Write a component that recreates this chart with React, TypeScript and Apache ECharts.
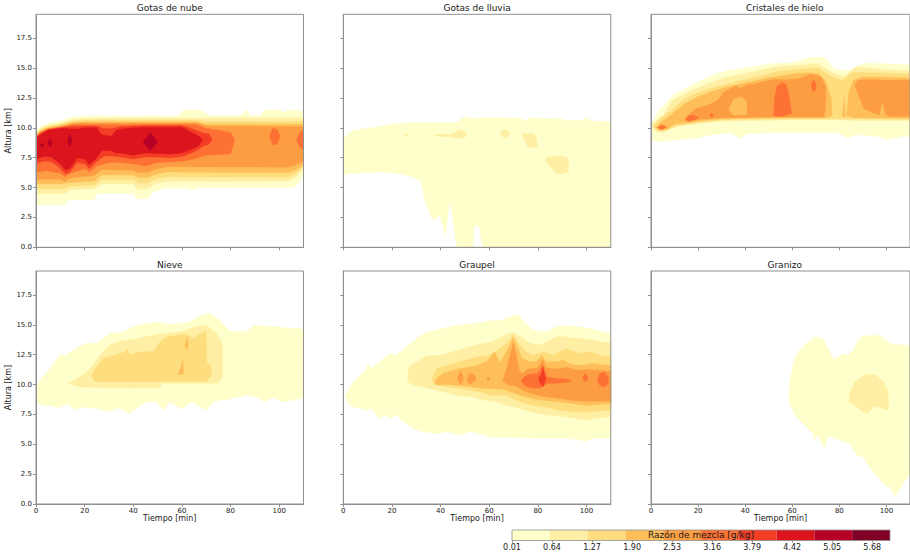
import React, { useEffect, useRef } from "react";
import * as echarts from "echarts";

type Pt = [number, number];
interface Region {
  level: number;
  top: Pt[];
  bottom: Pt[];
}

// Filled contour colours (YlOrRd), one per mixing-ratio interval
const COLORS = [
  "#ffffcc", "#ffefa5", "#fedd7f", "#febf5a", "#fd9d43",
  "#fd7134", "#f43d25", "#db141e", "#b60026", "#800026",
];
const CONTOUR_LEVELS = [0.01, 0.605, 1.2, 1.795, 2.39, 2.985, 3.58, 4.175, 4.77, 5.365, 5.96];
const COLORBAR_TICKS = [0.01, 0.64, 1.27, 1.9, 2.53, 3.16, 3.79, 4.42, 5.05, 5.68];
const TIME_TICKS = [0, 20, 40, 60, 80, 100];
const HEIGHT_TICKS = [0, 2.5, 5, 7.5, 10, 12.5, 15, 17.5];
const TIME_MAX = 110;
const HEIGHT_MAX = 19.5;

// Each region: outline of a filled contour, upper edge and lower edge as [time min, height km]
const NUBE: Region[] = [
  { level: 0,
    top: [[0,9.75],[2,10.1],[5,10.4],[10,10.6],[15,10.9],[20,11.0],[58,11.0],[61,11.5],[68,11.5],[71,11.0],[84,11.0],[86.5,11.5],[88.5,11.0],[92,11.0],[94,11.5],[100,11.5],[102,11.3],[104,11.5],[110,11.4]],
    bottom: [[0,3.55],[12,3.55],[13,3.95],[24,3.95],[25,4.5],[40,4.5],[41.5,4.05],[46,4.05],[48,4.65],[53,4.95],[62,4.95],[64,4.8],[67,5.0],[106,5.0],[108.5,5.5],[110,6.1]] },
  { level: 1,
    top: [[0,9.65],[2,9.95],[5,10.2],[10,10.4],[15,10.7],[20,10.8],[110,10.85]],
    bottom: [[0,4.5],[12,4.5],[14,4.8],[24,4.9],[27,5.3],[40,5.3],[42,4.85],[46,4.9],[49,5.3],[54,5.5],[104,5.5],[107,5.9],[110,6.5]] },
  { level: 2,
    top: [[0,9.55],[2,9.85],[5,10.1],[10,10.3],[15,10.55],[20,10.65],[66,10.65],[70,10.55],[110,10.55]],
    bottom: [[0,4.9],[12,4.9],[14,5.1],[24,5.2],[27,5.65],[40,5.65],[42,5.4],[46,5.4],[49,5.7],[54,5.9],[104,5.85],[107,6.2],[110,6.7]] },
  { level: 3,
    top: [[0,9.45],[2,9.75],[5,10.0],[10,10.2],[15,10.45],[20,10.5],[66,10.5],[70,10.3],[110,10.3]],
    bottom: [[0,5.3],[10,5.3],[13,5.4],[24,5.55],[27,6.05],[40,6.05],[42,5.85],[46,5.85],[49,6.1],[54,6.3],[104,6.25],[107,6.5],[110,6.9]] },
  { level: 4,
    top: [[0,9.4],[2,9.7],[5,9.95],[10,10.1],[15,10.35],[20,10.4],[66,10.4],[70,10.15],[110,10.1]],
    bottom: [[0,5.7],[10,5.7],[12,5.5],[14,5.8],[20,5.95],[24,6.0],[27,6.5],[40,6.45],[42,6.25],[46,6.25],[49,6.55],[54,6.75],[104,6.7],[107,6.9],[110,7.2]] },
  { level: 5,
    top: [[0,9.3],[2,9.6],[5,9.9],[10,10.05],[15,10.25],[66,10.25],[70,9.95],[75,9.8],[80,9.6],[81.5,9.1]],
    bottom: [[0,6.3],[5,6.4],[10,6.2],[12,5.9],[14,6.2],[20,6.6],[22,6.3],[25,6.8],[30,7.1],[35,7.1],[40,7.0],[45,6.8],[50,7.1],[60,7.2],[65,7.4],[70,7.7],[80,7.8],[81.5,8.8]] },
  { level: 5,
    top: [[96,9.3],[97.3,9.95],[99,9.9],[100.5,9.3]],
    bottom: [[96,9.3],[97.3,8.6],[99,8.6],[100.5,9.3]] },
  { level: 5,
    top: [[107,9.0],[108.5,9.6],[110,9.8]],
    bottom: [[107,9.0],[108.5,8.4],[110,8.2]] },
  { level: 6,
    top: [[0,9.2],[2,9.55],[5,9.85],[10,10.0],[15,10.1],[20,10.15],[25,10.15],[28,9.95],[31,9.95],[35,10.1],[40,10.15],[45,10.2],[60,10.2],[64,9.95],[67,9.7],[69,9.55],[71,9.5],[72.5,9.05]],
    bottom: [[0,7.0],[3,7.2],[6,7.2],[9,6.8],[12,6.15],[14,6.3],[17,7.1],[20,7.0],[22,6.6],[25,7.2],[28,7.65],[31,7.65],[35,7.55],[40,7.4],[45,7.55],[50,7.55],[55,7.5],[60,7.6],[64,7.9],[67,8.2],[69,8.5],[71,8.6],[72.5,9.05]] },
  { level: 7,
    top: [[0,9.1],[2,9.45],[5,9.8],[10,9.95],[12,9.97],[14,9.9],[17,9.9],[20,10.0],[25,10.0],[27,9.4],[31,9.3],[33,9.8],[35,9.9],[40,10.0],[45,10.05],[60,10.05],[64,9.6],[67,9.3],[68.5,9.0]],
    bottom: [[0,7.4],[3,7.6],[6,7.6],[10,7.0],[12,6.5],[14,6.6],[17,7.5],[20,7.4],[22,6.9],[25,7.5],[27,8.1],[31,8.1],[33,7.9],[35,7.9],[40,7.7],[45,7.9],[55,7.8],[60,7.9],[64,8.2],[67,8.5],[68.5,9.0]] },
  { level: 8, top: [[1.5,8.55],[2.5,8.7],[3.3,8.55]], bottom: [[1.5,8.55],[2.5,8.4],[3.3,8.55]] },
  { level: 8, top: [[4.8,8.75],[5.7,9.1],[6.6,8.75]], bottom: [[4.8,8.75],[5.7,8.4],[6.6,8.75]] },
  { level: 8, top: [[13,8.9],[13.9,9.5],[14.8,8.9]], bottom: [[13,8.9],[13.9,8.4],[14.8,8.9]] },
  { level: 8, top: [[44,8.8],[47,9.6],[50,8.8]], bottom: [[44,8.8],[47,8.1],[50,8.8]] },
];

const LLUVIA: Region[] = [
  { level: 0,
    top: [[0,9.1],[2,9.5],[4,9.8],[8,9.9],[15,10.1],[20,10.3],[25,10.4],[47,10.45],[49,10.85],[51,10.9],[53,10.75],[56,10.85],[65,10.85],[70,10.8],[72,10.85],[75,10.6],[77,10.85],[85,10.75],[88,10.8],[92,10.6],[95,10.65],[98,10.6],[100,10.85],[102,10.55],[105,10.55],[110,10.5]],
    bottom: [[0,6.05],[4,6.2],[10,6.25],[15,6.3],[20,6.25],[26,6.05],[29,5.85],[31,5.6],[32,5.45],[33.5,3.95],[36.4,2.4],[37.7,2.3],[39.7,2.7],[42,0.9],[43.8,4.0],[46.6,0],[53.4,0],[53.7,1.85],[55.9,1.75],[57.3,0],[110,0]] },
  { level: 1, top: [[25,9.4],[25.8,9.5],[26.7,9.4]], bottom: [[25,9.4],[25.8,9.3],[26.7,9.4]] },
  { level: 1,
    top: [[37,9.35],[40,9.5],[44,9.45],[46,9.6],[48,9.85],[50,9.7],[50.7,9.45]],
    bottom: [[37,9.35],[40,9.25],[44,9.25],[46,9.15],[48,9.1],[50,9.2],[50.7,9.45]] },
  { level: 1,
    top: [[64.4,9.5],[66,9.85],[67.5,9.8],[68.5,9.5]],
    bottom: [[64.4,9.5],[66,9.15],[67.5,9.25],[68.5,9.5]] },
  { level: 1,
    top: [[73.3,9.5],[78.4,9.5],[79.5,9.1],[79.7,8.6]],
    bottom: [[73.3,9.5],[75.9,8.4],[79.7,8.35]] },
  { level: 1,
    top: [[83,7.3],[84,7.6],[90,7.65],[92,7.5],[92.9,7.0]],
    bottom: [[83,7.3],[85,6.7],[88,6.1],[90,6.15],[92.5,6.3],[92.9,7.0]] },
];

const HIELO: Region[] = [
  { level: 0,
    top: [[0,10.35],[3.7,11.5],[10,12.85],[14.7,13.3],[20,13.85],[28,14.55],[32.5,14.8],[43.4,15.1],[51.6,15.4],[57.8,15.4],[62.6,15.6],[68,15.9],[73.6,15.9],[77.7,14.95],[83.8,14.75],[90,15.4],[96.8,15.4],[106.4,15.3],[110,15.3]],
    bottom: [[0,8.95],[5,8.85],[10.5,9.0],[18.8,9.1],[25.6,9.4],[33.8,9.6],[38,9.1],[40.7,9.5],[51.6,9.6],[79,9.6],[83.8,9.15],[87,9.45],[96.8,9.25],[100,9.0],[106.4,9.25],[110,9.3]] },
  { level: 1,
    top: [[0,10.25],[3,10.7],[5,11.0],[9,12.3],[17.4,13.15],[24,13.7],[32.5,14.25],[43.4,14.7],[53,15.1],[62.6,15.25],[70.8,15.4],[76.3,14.7],[81.8,14.3],[87.3,15.1],[95,14.95],[106,14.8],[110,14.8]],
    bottom: [[0,10.25],[2,9.7],[5,9.6],[8,9.9],[12,10.2],[20,10.35],[30,10.55],[40,10.6],[60,10.65],[80,10.65],[90,10.6],[110,10.6]] },
  { level: 2,
    top: [[1,10.1],[4,10.8],[9,11.5],[14,12.4],[20,12.95],[28,13.45],[35,13.8],[45,14.3],[55,14.75],[65,14.95],[71,15.0],[76,14.4],[81,13.95],[86,14.65],[95,14.6],[110,14.5]],
    bottom: [[1,10.1],[3,9.75],[6,9.75],[10,10.1],[20,10.45],[30,10.65],[40,10.7],[60,10.75],[80,10.75],[110,10.7]] },
  { level: 3,
    top: [[2,10.0],[4.5,10.5],[8,11.0],[11,11.5],[14,12.0],[20,12.6],[26,13.05],[32,13.4],[40,13.75],[50,14.2],[60,14.5],[66,14.6],[71,14.55],[74,14.0],[76.5,12.5],[77,11.0]],
    bottom: [[2,10.0],[4,9.8],[7,9.9],[10,10.3],[20,10.55],[30,10.75],[40,10.8],[60,10.85],[74,10.85],[77,11.0]] },
  { level: 3,
    top: [[83,11.0],[84,13.0],[86,14.0],[90,14.25],[100,14.25],[110,14.15]],
    bottom: [[83,11.0],[86,10.85],[110,10.8]] },
  { level: 3, top: [[81.3,10.9],[82,12.7],[82.6,10.9]], bottom: [[81.3,10.9],[82.6,10.9]] },
  { level: 4, top: [[2.5,10.0],[4.5,10.3],[7,10.1]], bottom: [[2.5,10.0],[4.5,9.83],[7,10.1]] },
  { level: 4,
    top: [[14,10.7],[16,11.1],[18.8,11.6],[24.2,11.9],[28.4,12.3],[31,13.0],[35.9,13.5],[38,13.3],[40.7,13.6],[43.4,13.65],[51.6,14.05],[59.9,14.05],[62.6,14.1],[68,14.5],[72.2,14.25],[74.3,13.4],[74,11.5],[73.5,10.9]],
    bottom: [[14,10.7],[16,10.5],[20,10.7],[30,10.85],[50,10.9],[73.5,10.9]] },
  { level: 3,
    top: [[33,11.5],[35,12.4],[38,12.6],[40.7,12.2]],
    bottom: [[33,11.5],[35,11.05],[40.7,11.1]] },
  { level: 4,
    top: [[86.5,13.6],[88,14.0],[95,14.05],[100,13.95],[106,14.0],[110,14.0]],
    bottom: [[86.5,13.6],[88,12.8],[90.5,11.6],[95,11.2],[97,11.1],[98.3,12.3],[99.5,11.1],[102,10.95],[110,10.95]] },
  { level: 5, top: [[3,10.0],[4.5,10.2],[6.4,10.05]], bottom: [[3,10.0],[4.5,9.87],[6.4,10.05]] },
  { level: 5,
    top: [[14.8,10.7],[16,11.0],[18,11.05],[20,10.9]],
    bottom: [[14.8,10.7],[16.5,10.55],[20,10.8]] },
  { level: 5, top: [[24.8,11.0],[25.7,11.25],[26.6,11.0]], bottom: [[24.8,11.0],[25.7,10.9],[26.6,11.0]] },
  { level: 5,
    top: [[52,11.0],[52.5,12.5],[53.5,13.5],[55.5,13.8],[57.5,13.6],[58.5,12.8],[59.8,11.2]],
    bottom: [[52,11.0],[55,10.95],[59.8,11.2]] },
  { level: 5, top: [[68,13.6],[69,14.0],[70,13.7]], bottom: [[68,13.6],[68.8,13.0],[70,13.2]] },
];

const NIEVE: Region[] = [
  { level: 0,
    top: [[0,9.95],[5.8,11.35],[9.9,12.5],[11.9,12.4],[15.3,12.9],[20.8,13.45],[25,13.45],[30.4,14.3],[35.9,14.4],[40,14.85],[45.5,15.1],[50.9,15.25],[55,15.0],[63.3,15.25],[68.8,15.85],[71.5,15.95],[75,15.5],[79.7,14.45],[86.6,14.45],[90,14.95],[101,14.8],[104.4,14.7],[108.5,14.75],[110,14.45]],
    bottom: [[0,8.4],[5.8,8.2],[9.9,8.05],[12.6,8.4],[16,7.9],[19.5,8.1],[25,8.0],[30.4,7.75],[34.5,8.05],[38,7.55],[41.4,8.0],[45.5,8.55],[49.6,8.55],[52.3,7.85],[55,8.55],[60,7.95],[64,8.55],[70,7.85],[72.9,8.55],[79.7,8.8],[86.6,9.1],[90.7,8.95],[94,8.55],[97.5,8.95],[101,8.55],[105.8,8.7],[110,8.9]] },
  { level: 1,
    top: [[13.3,10.1],[17,10.5],[20.8,11.05],[23.6,11.7],[26.3,12.45],[30.4,13.3],[34.5,13.6],[42.7,13.9],[50.9,14.25],[59.2,14.4],[66,14.85],[70,15.0],[74.2,14.3],[76.7,13.45],[76.7,10.6],[75,10.1]],
    bottom: [[13.3,10.1],[18,9.8],[25,9.75],[40,9.7],[50.9,9.75],[52,10.1],[75,10.1]] },
  { level: 2,
    top: [[22.9,10.8],[24.3,11.35],[27.7,12.2],[32.5,12.45],[36.6,12.75],[37.5,13.0],[38.5,12.5],[42.7,12.75],[48.2,12.75],[50.9,13.55],[53.7,14.0],[59.2,14.15],[61.9,14.2],[64.7,13.85],[67.4,14.25],[70,14.5],[70.3,11.8],[71.8,11.6],[72.2,10.8]],
    bottom: [[22.9,10.8],[24,10.25],[40,10.2],[60,10.25],[70,10.25],[72.2,10.8]] },
  { level: 3,
    top: [[58.3,10.85],[59.8,11.6],[60.4,12.2],[60.7,10.85]],
    bottom: [[58.3,10.85],[60.7,10.85]] },
  { level: 3,
    top: [[61.2,13.2],[62,14.0],[62.7,13.3]],
    bottom: [[61.2,13.2],[62,12.85],[62.7,13.3]] },
];

const GRAUPEL: Region[] = [
  { level: 0,
    top: [[0.7,8.95],[1.1,9.1],[2.7,9.8],[5.5,10.5],[8.9,11.2],[10.3,11.75],[11.6,11.35],[15,11.9],[19.2,12.6],[21.9,12.45],[26.7,13.3],[30.1,13.85],[34.2,14.35],[39.7,14.65],[45.2,14.9],[53.4,15.1],[58.9,15.3],[64.4,15.35],[68.5,15.65],[71.9,15.85],[74,15.35],[78,14.55],[83.6,14.4],[86.3,14.7],[88.4,14.9],[94.5,14.9],[100,14.75],[105.5,14.45],[110,14.3]],
    bottom: [[0.7,8.95],[1.1,8.85],[2.7,8.25],[4.8,8.05],[7.5,8.0],[9.6,7.85],[11.6,8.0],[15,7.15],[17,7.45],[19.2,7.15],[21.9,7.45],[24.7,6.9],[28.8,6.3],[32.9,6.05],[38.4,5.9],[42.5,6.05],[47.9,5.75],[52,6.05],[56,5.9],[60.3,5.6],[78,5.5],[91.8,5.5],[96,5.4],[100,5.25],[102.7,5.5],[110,5.5]] },
  { level: 1,
    top: [[26.3,10.8],[27.4,11.6],[30.8,11.95],[34.2,12.4],[39.7,12.45],[42.5,12.6],[46.6,12.85],[52,13.15],[56,13.4],[61.6,13.6],[65.8,14.1],[69.9,14.35],[73.3,13.95],[76.7,13.45],[80.8,13.3],[86.3,13.85],[89,14.05],[94.5,13.9],[100,13.8],[105.5,13.6],[110,13.5]],
    bottom: [[26.3,10.8],[26.6,10.2],[28.8,9.95],[34.2,9.7],[41,9.4],[46.6,9.1],[53,8.95],[57.5,8.7],[63,8.55],[67,8.25],[72.6,8.0],[78,7.65],[83.6,7.45],[91.8,7.3],[100,7.0],[105,7.2],[110,7.3]] },
  { level: 2,
    top: [[36.7,10.65],[38.4,11.35],[42.5,11.6],[47.9,11.9],[54.8,12.3],[60,12.45],[63,12.8],[67.1,13.45],[69.9,14.15],[72.6,13.3],[75.3,12.75],[78,12.45],[82.2,12.75],[86.3,12.45],[89,12.75],[91.8,13.0],[97.3,12.6],[101.4,12.75],[105.5,12.45],[110,12.3]],
    bottom: [[36.7,10.65],[36.9,10.1],[41,9.85],[46.6,9.7],[54.8,9.45],[60.3,9.1],[67,9.1],[72.6,8.55],[78,8.25],[83.6,8.1],[89,7.85],[94.5,7.7],[100,7.7],[110,7.85]] },
  { level: 3,
    top: [[37.7,10.35],[41,10.95],[47.9,11.35],[53.4,11.5],[58.9,11.9],[62.3,12.75],[64.4,11.8],[67.1,12.75],[69.9,13.95],[71.9,13.0],[73.3,12.2],[76.7,11.9],[79.5,11.9],[81.5,12.45],[83.6,11.9],[88,11.9],[90.4,12.05],[93,11.75],[97.3,11.6],[102.7,11.75],[110,11.6]],
    bottom: [[37.7,10.35],[38,9.95],[42.5,10.0],[50.7,9.85],[58.9,9.65],[65.8,9.6],[72.6,9.1],[78,8.8],[83.6,8.65],[89,8.55],[94.5,8.4],[100,8.25],[110,8.4]] },
  { level: 4, top: [[46.9,10.5],[48.2,11.15],[49.5,10.5]], bottom: [[46.9,10.5],[48.2,9.95],[49.5,10.5]] },
  { level: 4, top: [[50.7,10.35],[51.8,10.95],[54,10.8],[54.6,10.35]], bottom: [[50.7,10.35],[52,10.0],[54.6,10.35]] },
  { level: 4, top: [[59,10.5],[59.6,10.65],[60.2,10.5]], bottom: [[59,10.5],[59.6,10.3],[60.2,10.5]] },
  { level: 4,
    top: [[65.5,10.3],[67,11.2],[68.5,12.4],[69.9,13.5],[71.2,12.4],[72.3,11.2],[73.5,10.9],[76,11.3],[80,11.4],[82,12.1],[83.5,11.4],[88,11.3],[92,11.45],[96,11.2],[100,11.25],[105,11.2],[110,11.1]],
    bottom: [[65.5,10.3],[68,9.95],[71,9.85],[74,9.5],[78,9.2],[82,9.0],[86,8.9],[90,8.8],[95,8.65],[100,8.6],[105,8.6],[110,8.6]] },
  { level: 5,
    top: [[73,10.3],[75,10.75],[78,10.9],[80,10.95],[82,11.6],[84,10.6],[88,10.5],[92,10.45],[94,10.3]],
    bottom: [[73,10.3],[75,9.85],[78,9.7],[81,9.7],[84,10.1],[88,10.1],[92,10.2],[94,10.3]] },
  { level: 5, top: [[98.3,10.55],[99.5,10.9],[100.8,10.55]], bottom: [[98.3,10.55],[99.5,10.2],[100.8,10.55]] },
  { level: 5,
    top: [[104.5,10.4],[105.5,10.95],[107.5,11.05],[109,10.6]],
    bottom: [[104.5,10.4],[105.5,9.9],[107.5,9.8],[109,10.1]] },
  { level: 6,
    top: [[80.2,10.5],[81.5,10.9],[82,11.5],[82.7,10.9],[83.3,10.5]],
    bottom: [[80.2,10.5],[81,10.1],[82,9.8],[82.7,10.1],[83.3,10.5]] },
];

const GRANIZO: Region[] = [
  { level: 0,
    top: [[58.5,8.55],[58.9,10.2],[60.5,11.9],[62.6,12.75],[65.3,13.3],[69.5,14.0],[72.9,13.9],[74.9,13.15],[77.7,12.05],[79,12.3],[81.8,12.6],[83.8,12.45],[85.9,12.9],[87.9,13.7],[90,14.1],[92.7,14.1],[96.2,14.15],[98.2,14.0],[101,13.5],[103.7,13.35],[106.4,13.3],[110,13.25]],
    bottom: [[58.5,8.55],[61.2,7.45],[65.3,6.6],[68.8,5.9],[69.5,5.35],[70.8,5.75],[73.6,4.65],[75,5.6],[77,5.6],[79,5.45],[84.5,5.05],[87.3,4.1],[90,3.95],[92.7,3.1],[95.5,2.4],[99.6,1.55],[101.6,1.4],[103.7,0.6],[105.5,1.2],[108,2.0],[110,2.5]] },
  { level: 1,
    top: [[84,8.5],[84.5,9.4],[86.5,10.2],[91.4,10.85],[95.5,10.8],[98.9,10.2],[100.7,9.4],[101,8.0]],
    bottom: [[84,8.5],[87,8.2],[90,7.7],[92,7.55],[94.3,8.1],[96.8,8.15],[99.6,7.85],[101,8.0]] },
];

const PANEL_TITLES = ["Gotas de nube", "Gotas de lluvia", "Cristales de hielo", "Nieve", "Graupel", "Granizo"];
const PANEL_REGIONS = [NUBE, LLUVIA, HIELO, NIEVE, GRAUPEL, GRANIZO];

const FONT = "DejaVu Sans";
const TEXT = "#1a1a1a";
const FRAME = "#8f8f8f";
const COL_LEFT = [36, 343.3, 651];
const ROW_TOP = [14.3, 271];
const PANEL_W = 267.5;
const PANEL_H = 233;

function buildOption() {
  const grid: any[] = [];
  const xAxis: any[] = [];
  const yAxis: any[] = [];
  const series: any[] = [];
  const title: any[] = [];

  PANEL_REGIONS.forEach((regions, i) => {
    const row = Math.floor(i / 3);
    const col = i % 3;
    grid.push({ left: COL_LEFT[col], top: ROW_TOP[row], width: PANEL_W, height: PANEL_H, containLabel: false });
    title.push({
      text: PANEL_TITLES[i],
      left: COL_LEFT[col] + PANEL_W / 2,
      top: ROW_TOP[row] - 10.5,
      textAlign: "center",
      padding: 0,
      textStyle: { fontFamily: FONT, fontSize: 9, fontWeight: "normal", color: TEXT },
    });
    xAxis.push({
      gridIndex: i, type: "value", min: 0, max: TIME_MAX, z: 6,
      axisLine: { show: true, lineStyle: { color: FRAME, width: 1 } },
      axisTick: { show: true, length: 3, customValues: TIME_TICKS, lineStyle: { color: FRAME } },
      axisLabel: { show: row === 1, customValues: TIME_TICKS, fontFamily: FONT, fontSize: 7, color: TEXT, margin: 3 },
      splitLine: { show: false },
      name: row === 1 ? "Tiempo [min]" : "",
      nameLocation: "middle", nameGap: 10,
      nameTextStyle: { fontFamily: FONT, fontSize: 8, color: TEXT },
    });
    yAxis.push({
      gridIndex: i, type: "value", min: 0, max: HEIGHT_MAX, z: 6,
      axisLine: { show: true, lineStyle: { color: FRAME, width: 1 } },
      axisTick: { show: true, length: 3, customValues: HEIGHT_TICKS, lineStyle: { color: FRAME } },
      axisLabel: {
        show: col === 0, customValues: HEIGHT_TICKS, fontFamily: FONT, fontSize: 7, color: TEXT, margin: 4,
        formatter: (v: number) => v.toFixed(1),
      },
      splitLine: { show: false },
      name: col === 0 ? "Altura [km]" : "",
      nameLocation: "middle", nameGap: 18,
      nameTextStyle: { fontFamily: FONT, fontSize: 8, color: TEXT },
    });
    series.push({
      type: "custom", xAxisIndex: i, yAxisIndex: i, clip: true, silent: true, z: 2,
      data: regions.map((r, k) => [r.top[0][0], r.top[0][1], k]),
      encode: { x: 0, y: 1 },
      renderItem: (params: any, api: any) => {
        const r = regions[params.dataIndex];
        const pts = r.top.map((p) => api.coord(p)).concat(r.bottom.slice().reverse().map((p) => api.coord(p)));
        return {
          type: "polygon",
          shape: { points: pts },
          style: { fill: COLORS[r.level], stroke: COLORS[r.level], lineWidth: 0.4 },
        };
      },
    });
    series.push({
      type: "custom", xAxisIndex: i, yAxisIndex: i, clip: false, silent: true, z: 5,
      data: [[0, 0]],
      encode: { x: 0, y: 1 },
      renderItem: (_p: any, api: any) => {
        const a = api.coord([0, HEIGHT_MAX]);
        const b = api.coord([TIME_MAX, 0]);
        return {
          type: "rect",
          shape: { x: a[0], y: a[1], width: b[0] - a[0], height: b[1] - a[1] },
          style: { fill: "none", stroke: FRAME, lineWidth: 1 },
        };
      },
    });
  });

  // Horizontal colour bar
  const cb = PANEL_REGIONS.length;
  grid.push({ left: 512, top: 530, width: 378, height: 10.5 });
  xAxis.push({
    gridIndex: cb, type: "value", min: CONTOUR_LEVELS[0], max: CONTOUR_LEVELS[CONTOUR_LEVELS.length - 1], z: 6,
    axisLine: { show: false },
    axisTick: { show: true, length: 2, customValues: COLORBAR_TICKS, lineStyle: { color: FRAME } },
    axisLabel: {
      customValues: COLORBAR_TICKS, fontFamily: FONT, fontSize: 8, color: TEXT, margin: 3,
      formatter: (v: number) => v.toFixed(2),
    },
    splitLine: { show: false },
  });
  yAxis.push({ gridIndex: cb, type: "value", min: 0, max: 1, show: false });
  series.push({
    type: "custom", xAxisIndex: cb, yAxisIndex: cb, silent: true, z: 2,
    data: CONTOUR_LEVELS.slice(0, -1).map((lo, k) => [lo, CONTOUR_LEVELS[k + 1], k]),
    encode: { x: [0, 1] },
    renderItem: (_p: any, api: any) => {
      const a = api.coord([api.value(0), 1]);
      const b = api.coord([api.value(1), 0]);
      return {
        type: "rect",
        shape: { x: a[0], y: a[1], width: b[0] - a[0], height: b[1] - a[1] },
        style: { fill: COLORS[api.value(2)] },
      };
    },
  });
  series.push({
    type: "custom", xAxisIndex: cb, yAxisIndex: cb, silent: true, z: 5, clip: false,
    data: [[CONTOUR_LEVELS[0], 0]],
    encode: { x: 0, y: 1 },
    renderItem: (_p: any, api: any) => {
      const a = api.coord([CONTOUR_LEVELS[0], 1]);
      const b = api.coord([CONTOUR_LEVELS[CONTOUR_LEVELS.length - 1], 0]);
      return {
        type: "rect",
        shape: { x: a[0], y: a[1], width: b[0] - a[0], height: b[1] - a[1] },
        style: { fill: "none", stroke: FRAME, lineWidth: 0.8 },
      };
    },
  });
  title.push({
    text: "Razón de mezcla [g/kg]",
    left: 701, top: 530.3, textAlign: "center", padding: 0,
    textStyle: { fontFamily: FONT, fontSize: 9, fontWeight: "normal", color: TEXT },
  });

  return {
    animation: false,
    backgroundColor: "#ffffff",
    textStyle: { fontFamily: FONT },
    title, grid, xAxis, yAxis, series,
  };
}

export default function App() {
  const ref = useRef<HTMLDivElement>(null);
  useEffect(() => {
    if (!ref.current) return;
    const chart = echarts.init(ref.current, undefined, { renderer: "svg" });
    chart.setOption(buildOption());
    return () => chart.dispose();
  }, []);
  return (
    <div
      ref={ref}
      style={{ position: "fixed", left: 0, top: 0, width: 910, height: 553, background: "#fff" }}
    />
  );
}
